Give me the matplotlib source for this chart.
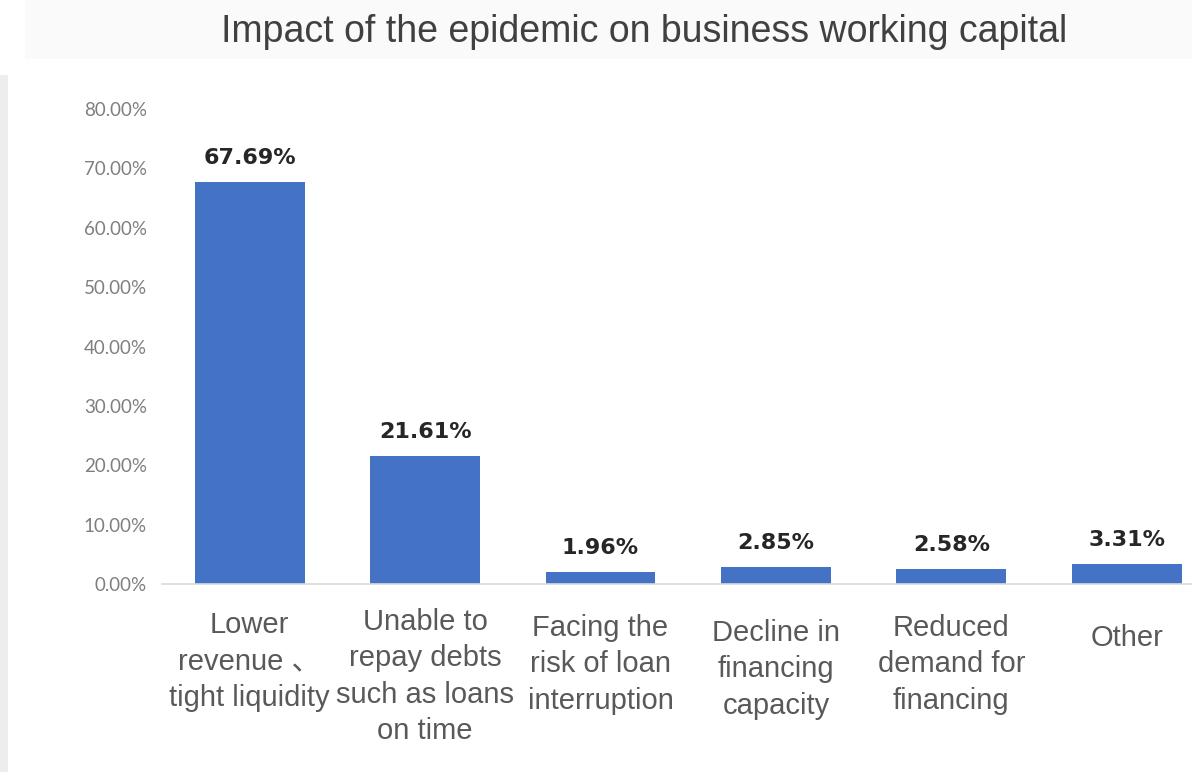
import matplotlib.pyplot as plt
from matplotlib.patches import Rectangle
from matplotlib.ticker import FuncFormatter

categories = [
    "Lower\nrevenue \u3001\ntight liquidity",
    "Unable to\nrepay debts\nsuch as loans\non time",
    "Facing the\nrisk of loan\ninterruption",
    "Decline in\nfinancing\ncapacity",
    "Reduced\ndemand for\nfinancing",
    "Other",
]
shares = [67.69, 21.61, 1.96, 2.85, 2.58, 3.31]
y_ticks = [0, 10, 20, 30, 40, 50, 60, 70, 80]

W, H = 1192, 772
fig = plt.figure(figsize=(W / 100, H / 100), dpi=100)
fig.patch.set_facecolor("white")

# faint title band and left frame strip
fig.patches.append(Rectangle((25 / W, 1 - 59 / H), 1, 59 / H, transform=fig.transFigure,
                             facecolor="#fafafa", edgecolor="none", zorder=0))
fig.patches.append(Rectangle((0, 0), 8 / W, 1 - 75 / H, transform=fig.transFigure,
                             facecolor="#ededed", edgecolor="none", zorder=0))

fig.text(644 / W, 1 - 32 / H, "Impact of the epidemic on business working capital",
         ha="center", va="center", fontsize=27, color="#404040",
         family="Liberation Sans")

left, bottom, top = 162, 584, 109
ax = fig.add_axes([left / W, 1 - bottom / H, (W - left) / W, (bottom - top) / H])
ax.set_facecolor("none")

step = 175.4
x = list(range(len(shares)))
bars = ax.bar(x, shares, width=0.627, color="#4472C4", zorder=2)

ax.set_ylim(0, 80)
ax.set_xlim(-0.5, -0.5 + (W - left) / step)
ax.set_yticks(y_ticks)
ax.yaxis.set_major_formatter(FuncFormatter(lambda v, p: f"{v:.2f}%"))
ax.tick_params(axis="y", length=0, pad=11, labelsize=13.5, labelcolor="#7f7f7f")
for lbl in ax.get_yticklabels():
    lbl.set_family("Lato")

for s in ["top", "right", "left"]:
    ax.spines[s].set_visible(False)
ax.spines["bottom"].set_color("#d9d9d9")
ax.spines["bottom"].set_linewidth(1.2)

# category labels below the axis
ax.set_xticks(x)
ax.set_xticklabels([])
ax.tick_params(axis="x", length=0)
label_drop = [27, 24, 30, 35, 30, 40]
for xi, name, d in zip(x, categories, label_drop):
    ax.annotate(name, (xi, 0), xytext=(0, -d), textcoords="offset pixels",
                ha="center", va="top", fontsize=21, color="#595959",
                linespacing=1.38, family=["Liberation Sans", "Noto Sans CJK SC"])

# value labels above bars
for b, v in zip(bars, shares):
    ax.annotate(f"{v:.2f}%", (b.get_x() + b.get_width() / 2, v), xytext=(0, 14),
                textcoords="offset pixels", ha="center", va="bottom",
                fontsize=16, fontweight="bold", color="#262626", family="DejaVu Sans")

fig.savefig("out.png", dpi=100, facecolor="white")
